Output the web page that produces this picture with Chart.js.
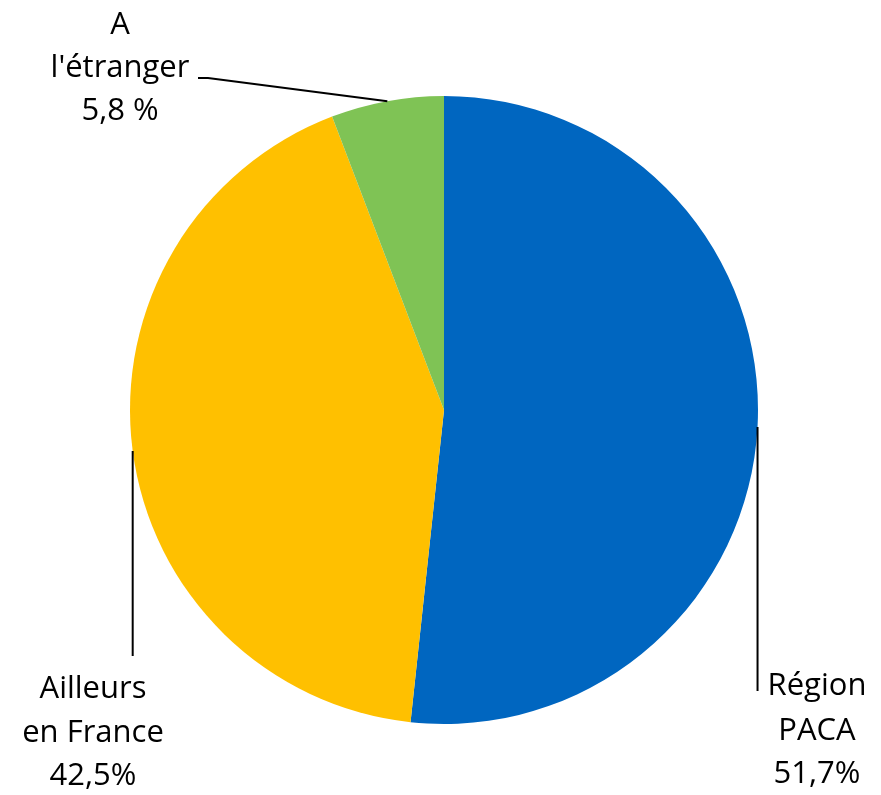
<!DOCTYPE html>
<html>
<head>
<meta charset="utf-8">
<script src="https://cdn.jsdelivr.net/npm/chart.js@4/dist/chart.umd.min.js"></script>
<style>
  html, body { margin: 0; padding: 0; background: #fff; }
  #wrap { width: 881px; height: 795px; position: relative; }
</style>
</head>
<body>
<div id="wrap"><canvas id="pie"></canvas></div>
<script>
// --- data ---
var categories = ['Région PACA', 'Ailleurs en France', "A l'étranger"];
var shares = [51.7, 42.5, 5.8];
var labelLines = [
  ['Région', 'PACA', '51,7%'],
  ['Ailleurs', 'en France', '42,5%'],
  ['A', "l'étranger", '5,8 %']
];
var colors = ['#0066C0', '#FFC000', '#7FC355'];

// label placement: angle of leader start on the rim (deg, 0 = right, clockwise),
// leader path (null x = keep previous x, i.e. vertical drop) and text block center
var labelSpots = [
  { rimDeg: 3.1, path: [[null, 691]], tx: 817, ty: [686, 731, 774] },
  { rimDeg: 172.5, path: [[null, 656]], tx: 93, ty: [689, 733, 776] },
  { rimDeg: -100.4, path: [[208, 78], [198, 78]], tx: 120, ty: [25, 68, 111] }
];

var leaderLabels = {
  id: 'leaderLabels',
  afterDatasetsDraw: function(chart) {
    var ctx = chart.ctx;
    var meta = chart.getDatasetMeta(0);
    ctx.save();
    meta.data.forEach(function(arc, i) {
      var spot = labelSpots[i];
      var a = spot.rimDeg * Math.PI / 180;
      var r = arc.outerRadius;
      var sx = arc.x + Math.cos(a) * r;
      var sy = arc.y + Math.sin(a) * r;
      ctx.beginPath();
      ctx.moveTo(sx, sy);
      var px = sx;
      spot.path.forEach(function(p) {
        px = p[0] === null ? px : p[0];
        ctx.lineTo(px, p[1]);
      });
      ctx.strokeStyle = '#000';
      ctx.lineWidth = 2;
      ctx.stroke();

      ctx.fillStyle = '#000';
      ctx.font = '31px "Open Sans", sans-serif';
      ctx.textAlign = 'center';
      ctx.textBaseline = 'middle';
      labelLines[i].forEach(function(t, k) {
        ctx.fillText(t, spot.tx, spot.ty[k]);
      });
    });
    ctx.restore();
  }
};

var chart = new Chart(document.getElementById('pie'), {
  type: 'pie',
  data: {
    labels: categories,
    datasets: [{
      data: shares,
      backgroundColor: colors,
      borderWidth: 0
    }]
  },
  options: {
    responsive: true,
    maintainAspectRatio: false,
    animation: false,
    layout: { padding: { left: 130, right: 123, top: 96, bottom: 71 } },
    plugins: {
      legend: { display: false },
      tooltip: { enabled: false }
    }
  },
  plugins: [leaderLabels]
});
</script>
</body>
</html>
